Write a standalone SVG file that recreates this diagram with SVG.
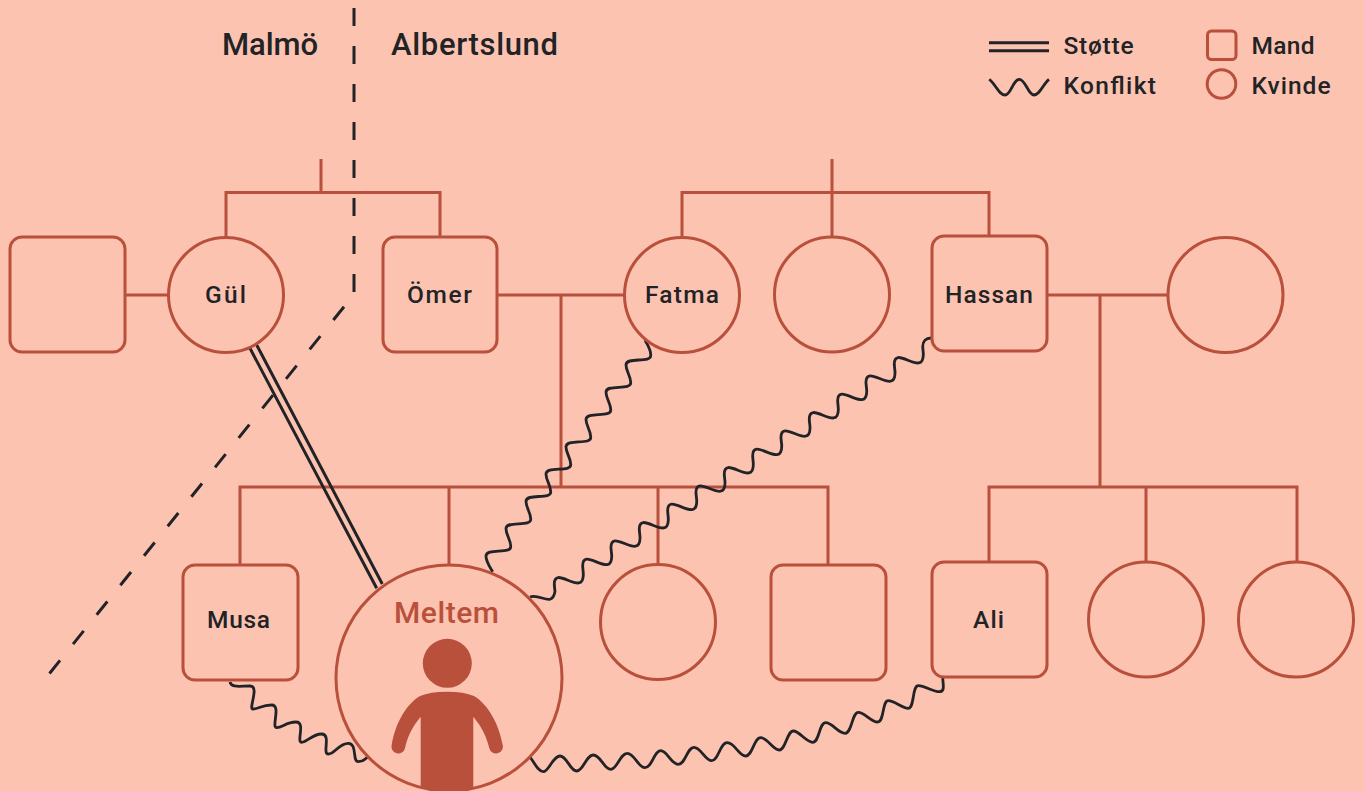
<svg xmlns="http://www.w3.org/2000/svg" width="1364" height="791" viewBox="0 0 1364 791">
<style>
text{font-family:"Roboto","Liberation Sans",sans-serif;font-weight:500;fill:#222326}
.n{font-size:24.5px}
.l{font-size:24.5px}
.h{font-size:31px}
.s{fill:#fdc3b1;stroke:#b9503c;stroke-width:3}
.c{fill:none;stroke:#b9503c;stroke-width:3}
.b{fill:none;stroke:#222326;stroke-width:3;stroke-linecap:butt}
.w{fill:none;stroke:#222326;stroke-width:2.8;stroke-linejoin:round}
</style>
<rect width="1364" height="791" fill="#fdc3b1"/>
<g id="connectors">
<path class="c" d="M321,159V192.500M226,237V192.500H440V237M832,159V237M682,237V192.500H989V236M125,295H168M497,295H625M561,295V487M240,565V487H828V565M449,487V565M658,487V565M1047,295H1168M1100,295V487M989,562V487H1297V562M1146,487V562"/>
<path class="b" d="M354,8V295" stroke-dasharray="18 20"/>
<path class="b" d="M344,306.7L49.5,673.5" stroke-dasharray="17 20.8"/>
<path class="b" d="M250,348.3L376.7,588.3M256.7,345L382.3,584"/>
<path class="w" d="M645,340C648,346 651,350 650.7,355c1,9 -25,1 -24.7,10c0,6 4.7,11 4.7,17.3c1,9 -25,1 -24.7,10c0,6 4.7,11 4.7,17.3c1,9 -25,1 -24.7,10c0,6 4.7,11 4.7,17.3c1,9 -25,1 -24.7,10c0,6 4.7,11 4.7,17.3c1,9 -25,1 -24.7,10c0,6 4.7,11 4.7,17.3c1,9 -25,1 -24.7,10c0,6 4.7,11 4.7,17.3c1,9 -25,1 -24.7,10c0,6 4.7,11 4.7,17.3c1,9 -25,1 -24.7,10c0,6 4,11 6.7,15.7"/>
<path class="w" d="M530,597C540,593 552,608 555,591.6L554.3,585
C553.300,563 584.300,599 583.300,573.300L582.700,566.700
C581.700,544.700 612.700,580.700 611.700,555L611,548.300
C610,526.300 641,562.300 640,536.600L639.300,530
C638.300,508 669.300,544 668.300,518.300L667.700,511.700
C666.700,489.700 697.700,525.700 696.700,500L696,493.300
C695,471.300 726,507.300 725,481.600L724.300,475
C723.300,453 754.300,489 753.300,463.300L752.700,456.700
C751.700,434.700 782.700,470.700 781.700,445L781,438.300
C780,416.300 811,452.300 810,426.600L809.300,420
C808.300,398 839.300,434 838.300,408.300L837.700,401.700
C836.700,379.700 867.700,415.700 866.700,390L866,383.300
C865,361.300 896,397.300 895,371.600L894.300,365
C893.300,343 924.300,379 923.300,353.300L922.700,346.700
C922.700,341 926,338 931,338"/>
<path class="w" d="M230,682C231,688 240,686 250,686S 248,709 253,709S 262,705 271.7,705S 271,727.7 276.7,727.7S 286,722 296,722S 296,742.3 301.7,742.3S 312,734 321.7,734S 322,754 328.3,754S 339,743.3 348.3,743.3S 352,761.7 358.3,761.7S 364,759 368,757"/>
<path class="w" d="M530,757C534,762 538,771.7 543.3,771.7S 553,756 560,756S 570,771 576.7,771S 586,755 593.3,755S 604,769.3 610.7,769.3S 620,753.3 627.3,753.3S 638,767.7 645,767.7S 654,750.7 660.7,750.7S 671,764.3 678.3,764.3S 687,747.3 694,747.3S 705,760.7 711.7,760.7S 720,742.7 727.3,742.7S 739,756 745.7,756S 754,737.7 760.7,737.7S 773,750 779.3,750S 787,731 793.3,731S 806,742.3 812.7,742.3S 819,722.7 825.7,722.7S 838,733.3 845,733.3S 852,712.3 858.3,712.3S 871,722 877.7,722S 882,700.7 888.3,700.7S 902,708.3 908.3,708.3S 912,685.7 918.3,685.7S 933,691.7 939.3,691.7S 942.7,684 942.7,676.7"/>
</g>
<g id="n1"><rect class="s" x="10" y="237" width="115" height="115" rx="12"/></g>
<g id="gul"><circle class="s" cx="226" cy="295" r="57.5"/><text class="n" x="205" y="303" textLength="41">Gül</text></g>
<g id="omer"><rect class="s" x="383" y="237" width="114" height="115" rx="12"/><text class="n" x="407" y="303" textLength="65">Ömer</text></g>
<g id="fatma"><circle class="s" cx="682" cy="295" r="57.5"/><text class="n" x="645" y="303" textLength="74">Fatma</text></g>
<g id="n2"><circle class="s" cx="832" cy="294.5" r="57.5"/></g>
<g id="hassan"><rect class="s" x="932" y="236" width="115" height="115" rx="12"/><text class="n" x="945" y="303" textLength="88">Hassan</text></g>
<g id="n3"><circle class="s" cx="1225.5" cy="295" r="57.5"/></g>
<g id="musa"><rect class="s" x="183" y="565" width="115" height="115" rx="12"/><text class="n" x="207" y="628" textLength="63">Musa</text></g>
<g id="meltem"><circle class="s" cx="449" cy="678" r="113"/>
<text x="394" y="622.5" textLength="105" style="font-size:30px;fill:#b9503c">Meltem</text>
<circle cx="447.3" cy="663.3" r="24.5" fill="#b9503c"/>
<path fill="#b9503c" d="M420.7,788L420.7,716.7C412,727 407,738 405,748.3A6.7,6.7 0 0 1 391.7,745C395,725 405,705 420,696Q430,691.7 447,691.7T474,696C489,705 499,725 502.7,745A6.7,6.7 0 0 1 489.3,748.3C487,738 482,727 473.3,716.7L473.3,788A113,113 0 0 1 420.7,788Z"/></g>
<g id="n4"><circle class="s" cx="658" cy="622" r="57.5"/></g>
<g id="n5"><rect class="s" x="771" y="565" width="115" height="115" rx="12"/></g>
<g id="ali"><rect class="s" x="932" y="562" width="115" height="115" rx="12"/><text class="n" x="973" y="628" textLength="31">Ali</text></g>
<g id="n6"><circle class="s" cx="1146" cy="619.5" r="57.5"/></g>
<g id="n7"><circle class="s" cx="1296" cy="619.5" r="57.5"/></g>
<g id="labels"><text class="h" x="222" y="55" textLength="96">Malmö</text><text class="h" x="391" y="55" textLength="167">Albertslund</text></g>
<g id="legend">
<path class="b" d="M989,42.7H1049M989,50.7H1049"/>
<path class="w" d="M989.3,79.3C996,85 999,95 1005,95S 1013,79.3 1019.3,79.3S 1028,95 1034,95S 1043,84 1049,79.3"/>
<rect class="s" x="1207.5" y="31" width="28.5" height="28.5" rx="4"/>
<circle class="s" cx="1221.5" cy="84" r="14.3"/>
<text class="l" x="1063.5" y="53.5" textLength="70">Støtte</text><text class="l" x="1063.5" y="93.5" textLength="92.5">Konflikt</text><text class="l" x="1251.5" y="53.5" textLength="63">Mand</text><text class="l" x="1251.5" y="93.5" textLength="79">Kvinde</text>
</g>
</svg>
